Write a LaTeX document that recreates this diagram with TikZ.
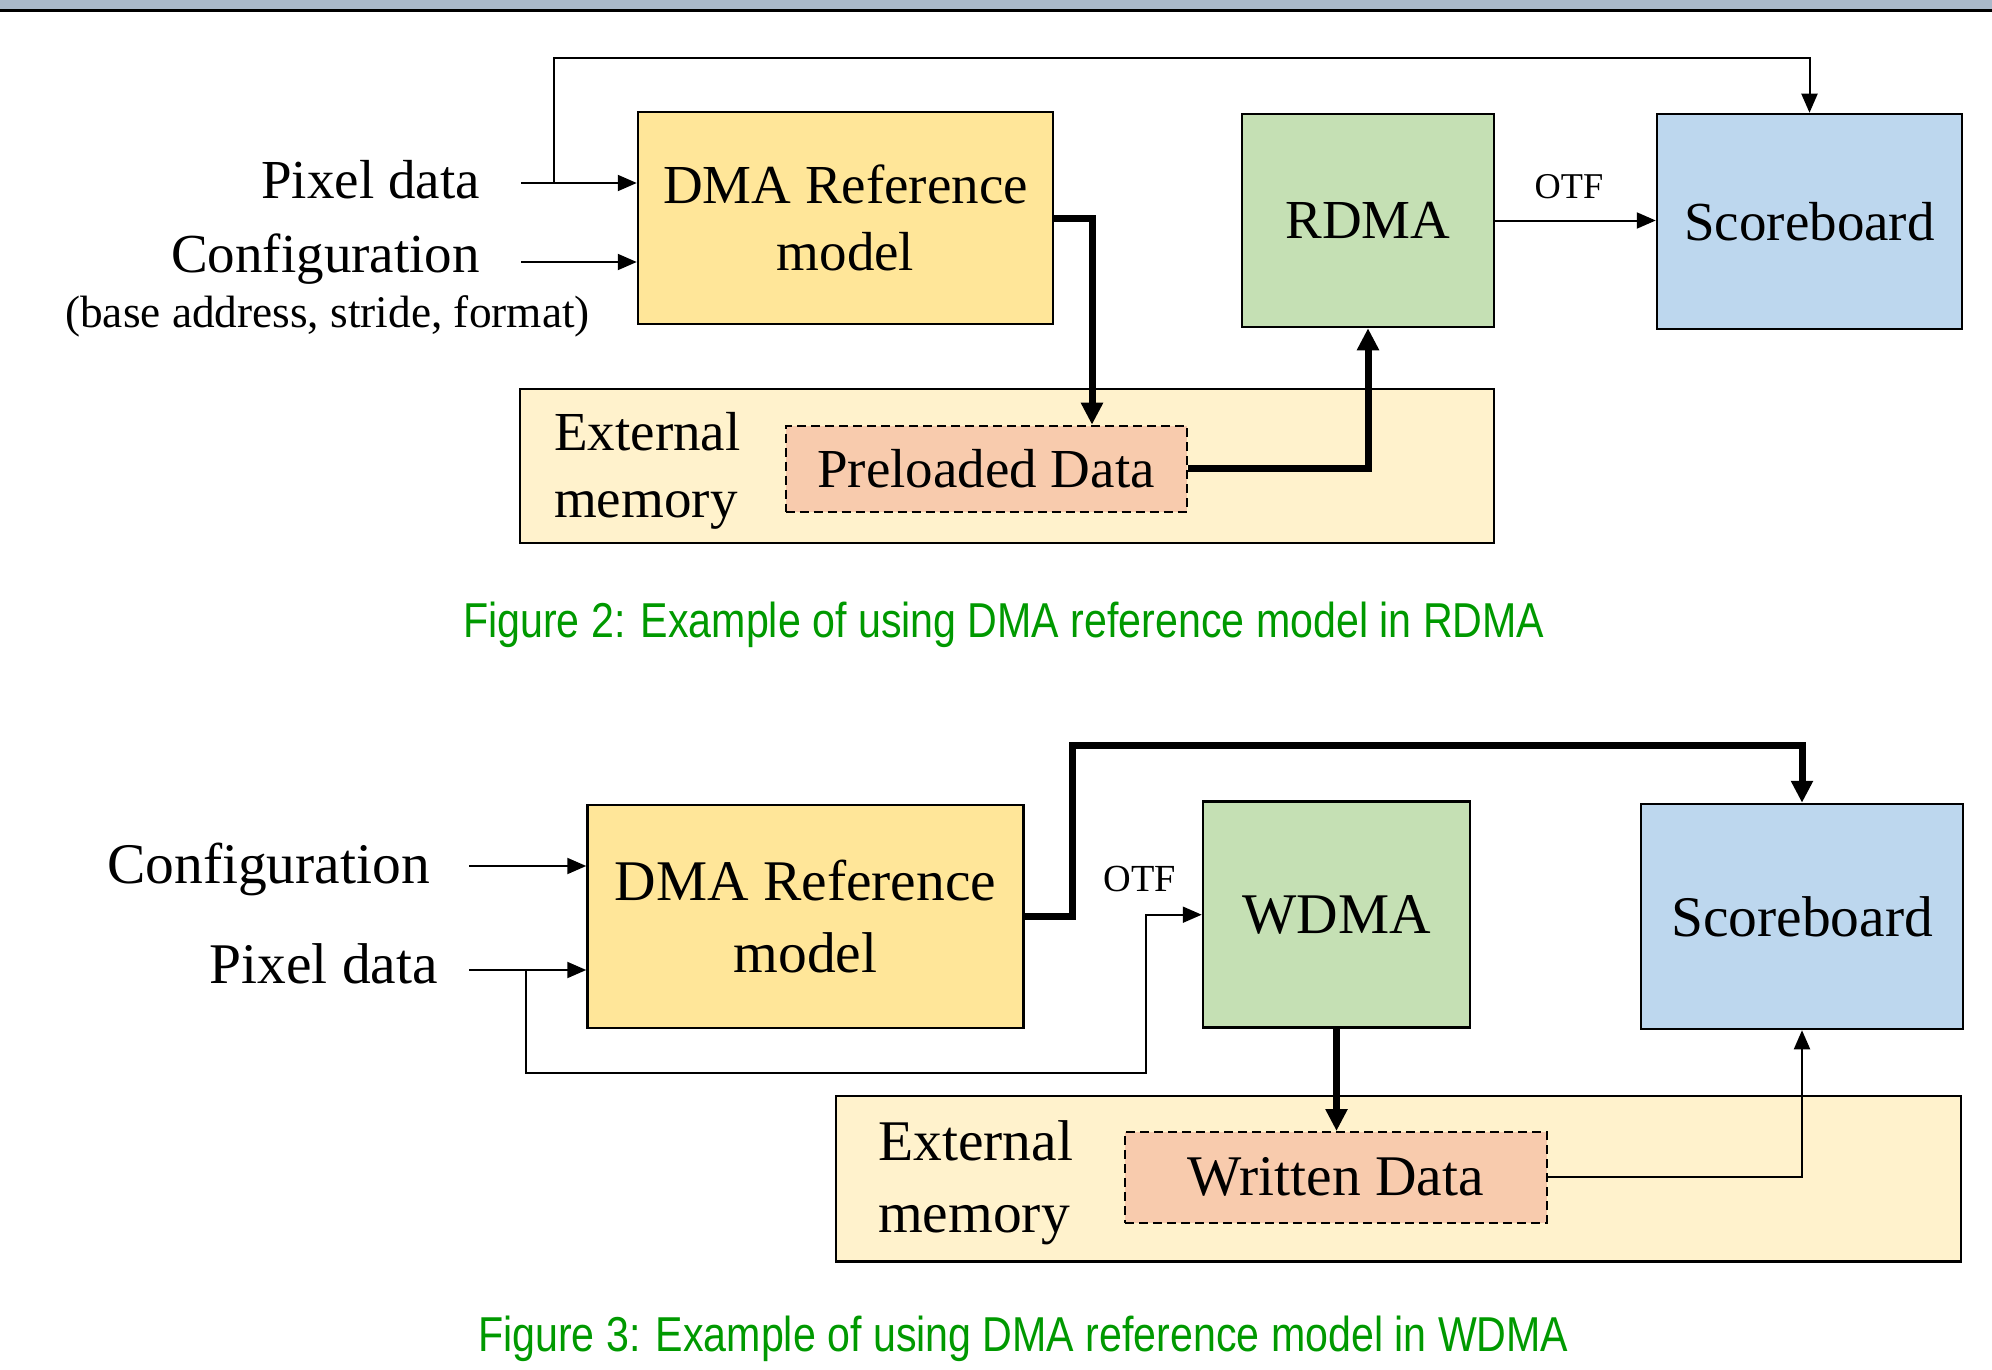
\documentclass[tikz,border=0pt]{standalone}
\usepackage{fontspec}
\setmainfont{Liberation Serif}
\newfontfamily\capfont[FakeStretch=0.84]{Liberation Sans}
\usetikzlibrary{arrows.meta}
\definecolor{barcol}{HTML}{AAB9CA}
\definecolor{dmacol}{HTML}{FFE699}
\definecolor{dmaccol}{HTML}{C5E0B4}
\definecolor{sbcol}{HTML}{BDD7EE}
\definecolor{extcol}{HTML}{FFF2CC}
\definecolor{datacol}{HTML}{F8CBAD}
\definecolor{capcol}{RGB}{0,153,0}
\newcommand\ftwo{\fontsize{55}{67}\selectfont}
\newcommand\fthree{\fontsize{57.5}{71.5}\selectfont}
\tikzset{
  blk/.style={draw=black, line width=2.5pt, inner sep=0pt, align=center},
  datablk/.style={draw=black, line width=2pt, dash pattern=on 9pt off 5pt, inner sep=0pt, align=center, fill=datacol},
  lbl/.style={inner sep=0pt},
  thinarr/.style={line width=2pt, -{Triangle[length=19pt,width=16pt]}},
  thickarr/.style={line width=7pt, -{Triangle[length=22pt,width=21pt]}},
  thickline/.style={line width=7pt},
  captxt/.style={inner sep=0pt, anchor=base west, text=capcol, font=\capfont\fontsize{49}{55}\selectfont}
}
\begin{document}
\begin{tikzpicture}[x=1pt,y=-1pt]
\useasboundingbox (0,0) rectangle (1992,1370);
\fill[barcol] (0,0) rectangle (1992,9.5);
\fill[black] (0,9.5) rectangle (1992,12);

% ================= Figure 2 =================
\node[blk, fill=dmacol, minimum width=415pt, minimum height=212pt, font=\ftwo] (dma2) at (845.5,218) {DMA Reference\\model};
\node[blk, fill=dmaccol, minimum width=252pt, minimum height=213pt, font=\ftwo] (rdma) at (1368,220.5) {RDMA};
\node[blk, fill=sbcol, minimum width=305pt, minimum height=215pt, font=\ftwo] (sb2) at (1809.5,221.5) {Scoreboard};
\node[blk, fill=extcol, minimum width=974pt, minimum height=154pt] (ext2) at (1007,466) {};
\node[lbl, anchor=west, align=left, font=\ftwo] (ext2t) at (554,471.2) {External\\memory};
\node[datablk, minimum width=401pt, minimum height=86pt, font=\ftwo] (pre) at (986,468.7) {Preloaded Data};

\node[lbl, anchor=base east, font=\ftwo] (pd2) at (480,198) {Pixel data};
\node[lbl, anchor=base east, font=\ftwo] (cf2) at (480,272) {Configuration};
\node[lbl, anchor=base, font=\fontsize{45.3}{50}\selectfont] (cf2b) at (327.5,327) {(base address, stride, format)};
\node[lbl, anchor=base, font=\fontsize{36.3}{40}\selectfont] (otf2) at (1569,198) {OTF};

\coordinate (pd2s) at (521,183);
\coordinate (pj2) at (554,183);
\coordinate (cf2s) at (521,262);
\coordinate (top2) at (1200,58.5);

\draw[thinarr] (pd2s) -- (pd2s -| dma2.west);
\draw[thinarr] (cf2s) -- (cf2s -| dma2.west);
\draw[thinarr] (pj2) |- (top2) -| (sb2.north);
\draw[thinarr] (rdma.east) -- (rdma.east -| sb2.west);
\draw[thickarr] (dma2.east) -| ([xshift=106pt]pre.north);
\draw[thickarr] (pre.east) -| (rdma.south);

\node[captxt] (cap2) at (463,637.7) {Figure 2: Example of using DMA reference model in RDMA};

% ================= Figure 3 =================
\node[blk, fill=dmacol, minimum width=436pt, minimum height=223pt, font=\fthree] (dma3) at (805.5,916.5) {DMA Reference\\model};
\node[blk, fill=dmaccol, minimum width=267pt, minimum height=226pt, font=\fthree] (wdma) at (1336.5,914.7) {WDMA};
\node[blk, fill=sbcol, minimum width=322pt, minimum height=225pt, font=\fthree] (sb3) at (1802,916.5) {Scoreboard};
\node[blk, fill=extcol, minimum width=1125pt, minimum height=165.7pt] (ext3) at (1398.5,1178.85) {};
\node[lbl, anchor=west, align=left, font=\fthree] (ext3t) at (878,1182.5) {External\\memory};
\node[datablk, minimum width=421.5pt, minimum height=90.7pt, font=\fthree] (wd) at (1335.75,1177.35) {Written Data};

\node[lbl, anchor=base east, font=\fthree] (cf3) at (430,883) {Configuration};
\node[lbl, anchor=base east, font=\fthree] (pd3) at (438,983) {Pixel data};
\node[lbl, anchor=base, font=\fontsize{38.3}{42}\selectfont] (otf3) at (1140,891) {OTF};

\coordinate (cf3s) at (469,866);
\coordinate (pd3s) at (469,970);
\coordinate (pj3) at (526,970);
\coordinate (c3) at (1145.6,1073);
\coordinate (k3) at (1072,745.7);

\draw[thinarr] (cf3s) -- (cf3s -| dma3.west);
\draw[thinarr] (pd3s) -- (pd3s -| dma3.west);
\draw[thinarr] (pj3) |- (c3) |- (wdma.west);
\draw[thickarr] (dma3.east) -| (k3) -| (sb3.north);
\draw[thickarr] (wdma.south) -- (wdma.south |- wd.north);
\draw[thinarr] (wd.east) -| (sb3.south);

\node[captxt] (cap3) at (478,1351.7) {Figure 3: Example of using DMA reference model in WDMA};
\end{tikzpicture}
\end{document}
